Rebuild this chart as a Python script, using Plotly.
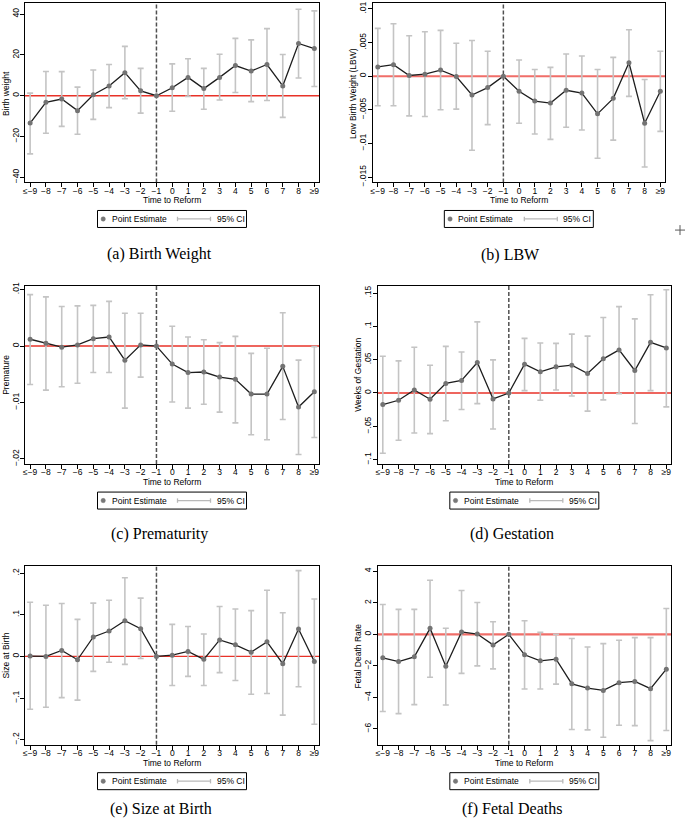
import plotly.graph_objects as go

W, H = 685, 829

categories = ["≤−9", "−8", "−7", "−6", "−5", "−4", "−3", "−2", "−1",
              "0", "1", "2", "3", "4", "5", "6", "7", "8", "≥9"]
reform_cat = "−1"

# (a) Birth weight
bw_est = [-13.4, -3.2, -1.6, -7.3, 0.5, 4.8, 11.3, 2.4, 0, 3.9, 9.0, 3.5, 9.0, 14.8, 12.1, 15.3, 4.8, 25.6, 23.1]
bw_lo = [-28.5, -18.4, -15.0, -18.9, -11.6, -5.8, -1.5, -8.5, None, -7.6, -0.3, -6.6, -2.1, 1.6, -2.9, -2.3, -10.6, 8.7, 4.5]
bw_hi = [1.3, 11.9, 11.8, 4.2, 12.6, 15.3, 24.2, 13.4, None, 15.6, 18.1, 13.4, 20.3, 28.1, 27.4, 32.9, 20.2, 42.4, 41.6]

# (b) LBW
lbw_est = [.00137, .0017, .0001, .0003, .0009, -.00005, -.0028, -.0017, 0, -.00225, -.0037, -.004, -.0021, -.0025, -.0056, -.0033, .002, -.007, -.00225]
lbw_lo = [-.0044, -.0044, -.0059, -.006, -.005, -.0049, -.011, -.0072, None, -.007, -.0086, -.0094, -.0076, -.008, -.0122, -.0095, -.003, -.0135, -.0082]
lbw_hi = [.0071, .0078, .006, .0066, .0068, .0049, .0053, .0037, None, .0024, .001, .0013, .0033, .003, .001, .0028, .0069, -.0005, .0037]

# (c) Prematurity
pre_est = [.0012, .0005, -.0002, .0002, .0013, .0016, -.0025, .0002, 0, -.0032, -.0047, -.0046, -.0055, -.0059, -.0085, -.0085, -.0036, -.0108, -.0081]
pre_lo = [-.0068, -.0078, -.0072, -.0066, -.0047, -.0047, -.011, -.0055, None, -.0099, -.011, -.0103, -.0117, -.0136, -.0157, -.0166, -.013, -.0192, -.0162]
pre_hi = [.0091, .0087, .007, .0071, .0072, .0079, .0058, .0058, None, .0035, .0016, .0011, .0006, .0017, -.0013, -.0004, .0059, -.0025, -.0001]

# (d) Gestation
ges_est = [-.0174, -.0109, .0045, -.0094, .0144, .0189, .0457, -.0089, 0, .0432, .0318, .0392, .0417, .0293, .0512, .0646, .0338, .076, .0676]
ges_lo = [-.0904, -.071, -.060, -.061, -.0417, -.0248, -.0159, -.0541, None, .0035, -.011, .0045, -.0045, -.0273, -.0104, -.001, -.0457, .0035, -.0209]
ges_hi = [.0551, .0482, .0686, .0417, .070, .0616, .1068, .0497, None, .082, .075, .0745, .0884, .0854, .1133, .1296, .1113, .1475, .155]

# (e) Size at birth
size_est = [.0008, 0, .0143, -.008, .0468, .061, .0857, .0667, 0, .003, .012, -.007, .0397, .0278, .0103, .035, -.0175, .066, -.012]
size_lo = [-.127, -.122, -.099, -.105, -.036, -.014, -.019, -.005, None, -.070, -.048, -.070, -.039, -.058, -.091, -.089, -.141, -.073, -.163]
size_hi = [.130, .123, .127, .089, .128, .135, .189, .140, None, .077, .072, .054, .12, .114, .110, .159, .105, .206, .138]

# (f) Fetal deaths
fd_est = [-1.49, -1.73, -1.43, .38, -2.02, .15, .02, -.67, 0, -1.3, -1.68, -1.58, -3.14, -3.41, -3.56, -3.07, -2.99, -3.45, -2.21]
fd_lo = [-4.9, -5.03, -4.46, -2.72, -4.48, -2.48, -2.0, -2.19, None, -3.47, -3.47, -3.16, -6.04, -6.06, -6.53, -5.77, -5.79, -6.74, -6.1]
fd_hi = [1.89, 1.58, 1.58, 3.43, .38, 2.78, 2.02, .8, None, .86, .13, 0, -.27, -.8, -.59, -.38, -.21, -.21, 1.64]

ytick_vals = {
    "a": [40, 20, 0, -20, -40],
    "b": [.01, .005, 0, -.005, -.01, -.015],
    "c": [.01, 0, -.01, -.02],
    "d": [.15, .1, .05, 0, -.05, -.1],
    "e": [.2, .1, 0, -.1, -.2],
    "f": [4, 2, 0, -2, -4, -6],
}
ytick_text = {
    "a": ["40", "20", "0", "−20", "−40"],
    "b": [".01", ".005", "0", "−.005", "−.01", "−.015"],
    "c": [".01", "0", "−.01", "−.02"],
    "d": [".15", ".1", ".05", "0", "−.05", "−.1"],
    "e": [".2", ".1", "0", "−.1", "−.2"],
    "f": ["4", "2", "0", "−2", "−4", "−6"],
}
ytitles = {"a": "Birth weight", "b": "Low Birth Weight (LBW)", "c": "Premature",
           "d": "Weeks of Gestation", "e": "Size at Birth", "f": "Fetal Death Rate"}
captions = {"a": "(a) Birth Weight", "b": "(b) LBW", "c": "(c) Prematurity",
            "d": "(d) Gestation", "e": "(e) Size at Birth", "f": "(f) Fetal Deaths"}

series = {
    "a": (bw_est, bw_lo, bw_hi),
    "b": (lbw_est, lbw_lo, lbw_hi),
    "c": (pre_est, pre_lo, pre_hi),
    "d": (ges_est, ges_lo, ges_hi),
    "e": (size_est, size_lo, size_hi),
    "f": (fd_est, fd_lo, fd_hi),
}

# layout geometry (pixels)
panels = {
    #      left,  right, top, bottom, yrange,            ytitle_x, caption_x, caption_y, redcolor, redwidth
    "a": (23, 318, 0.5, 181, [-42.5, 45.2], 4, 158, 253, "rgb(232,50,40)", 1.4),
    "b": (371.7, 665, 0.5, 181, [-.0158, .0108], 352, 510, 254, "rgb(240,110,105)", 2.0),
    "c": (23, 318, 285, 465, [-.0209, .0107], 4, 158, 536, "rgb(232,50,40)", 1.4),
    "d": (376.7, 671, 285, 465, [-.1067, .1612], 357, 511, 536, "rgb(232,50,40)", 1.4),
    "e": (23, 318, 568, 748, [-.212, .2167], 4, 159, 813, "rgb(232,50,40)", 1.4),
    "f": (376.7, 671, 568, 748, [-7.0, 4.32], 357, 511, 813, "rgb(240,110,105)", 2.2),
}

FONT = "Liberation Sans, Arial, sans-serif"
fig = go.Figure()
shapes = []
annotations = []
reform_idx = categories.index(reform_cat)

for i, key in enumerate(["a", "b", "c", "d", "e", "f"]):
    n = "" if i == 0 else str(i + 1)
    xa, ya = "x" + n, "y" + n
    left, right, top, bottom, yr, ytx, capx, capy, redc, redw = panels[key]
    est, lo, hi = series[key]
    plus = [None if h is None else h - e for e, h in zip(est, hi)]
    minus = [None if l is None else e - l for e, l in zip(est, lo)]

    fig.add_trace(go.Scatter(
        x=categories, y=est, xaxis=xa, yaxis=ya, mode="markers",
        marker=dict(size=1, color="rgba(0,0,0,0)"),
        error_y=dict(type="data", symmetric=False, array=plus, arrayminus=minus,
                     color="rgb(196,196,196)", thickness=1.6, width=3),
        showlegend=False, hoverinfo="skip"))

    # reference lines (behind the estimate line)
    shapes.append(dict(type="line", xref=xa + " domain", yref=ya, x0=0, x1=1, y0=0, y1=0,
                       line=dict(color=redc, width=redw), layer="below"))
    shapes.append(dict(type="line", xref=xa, yref=ya + " domain", x0=reform_idx, x1=reform_idx,
                       y0=0, y1=1, line=dict(color="rgb(80,80,80)", width=1.5, dash="4px,2px"),
                       layer="below"))

    fig.add_trace(go.Scatter(
        x=categories, y=est, xaxis=xa, yaxis=ya, mode="lines+markers",
        line=dict(color="rgb(30,30,30)", width=1.3),
        marker=dict(size=5, color="rgb(115,115,115)"),
        showlegend=False))

    xdom = [left / W, right / W]
    ydom = [1 - bottom / H, 1 - top / H]
    common = dict(showline=True, linecolor="black", linewidth=1, mirror=True,
                  showgrid=False, zeroline=False, ticks="outside", ticklen=4,
                  tickwidth=1, tickcolor="black",
                  tickfont=dict(family=FONT, size=8.5, color="black"))
    fig.layout["xaxis" + n] = dict(domain=xdom, anchor=ya, type="category",
                                   categoryorder="array", categoryarray=categories,
                                   range=[-0.33, 18.3], ticklabelstandoff=-4, **common)
    fig.layout["yaxis" + n] = dict(domain=ydom, anchor=xa, range=yr,
                                   tickvals=ytick_vals[key], ticktext=ytick_text[key],
                                   tickangle=-90, ticklabelstandoff=-2, **common)

    # axis titles
    annotations.append(dict(text="Time to Reform", xref=xa + " domain", yref=ya + " domain",
                            x=0.5, y=0, yshift=-18, showarrow=False, xanchor="center",
                            yanchor="middle", font=dict(family=FONT, size=8.5, color="black")))
    annotations.append(dict(text=ytitles[key], xref="paper", yref=ya + " domain",
                            x=ytx / W, y=0.5, textangle=-90, showarrow=False,
                            xanchor="center", yanchor="middle",
                            font=dict(family=FONT, size=8.5, color="black")))
    # caption
    annotations.append(dict(text=captions[key], xref="paper", yref="paper",
                            x=capx / W, y=1 - capy / H, showarrow=False,
                            xanchor="center", yanchor="middle",
                            font=dict(family="Liberation Serif, Times New Roman, serif",
                                      size=16, color="black")))

    # legend box
    pix = dict(xref=xa + " domain", yref=ya + " domain", xsizemode="pixel",
               ysizemode="pixel", xanchor=0.5, yanchor=0)
    shapes.append(dict(type="rect", x0=-74.5, x1=74.5, y0=-28, y1=-45,
                       line=dict(color="black", width=1), fillcolor="white", **pix))
    shapes.append(dict(type="circle", x0=-71, x1=-66.6, y0=-38.7, y1=-34.3,
                       line=dict(color="rgb(120,120,120)", width=0.5),
                       fillcolor="rgb(120,120,120)", **pix))
    shapes.append(dict(type="line", x0=5.5, x1=38.5, y0=-36.5, y1=-36.5,
                       line=dict(color="rgb(185,185,185)", width=1.3), **pix))
    for cx in (5.5, 38.5):
        shapes.append(dict(type="line", x0=cx, x1=cx, y0=-34.3, y1=-38.7,
                           line=dict(color="rgb(185,185,185)", width=1.3), **pix))
    annotations.append(dict(text="Point Estimate", xref=xa + " domain", yref=ya + " domain",
                            x=0.5, y=0, xshift=-62.5, yshift=-36.5, showarrow=False,
                            xanchor="left", yanchor="middle",
                            font=dict(family=FONT, size=8.5, color="black")))
    annotations.append(dict(text="95% CI", xref=xa + " domain", yref=ya + " domain",
                            x=0.5, y=0, xshift=42.5, yshift=-36.5, showarrow=False,
                            xanchor="left", yanchor="middle",
                            font=dict(family=FONT, size=8.5, color="black")))

# stray cross mark at the right edge
shapes.append(dict(type="line", xref="paper", yref="paper", x0=675 / W, x1=685 / W,
                   y0=1 - 229 / H, y1=1 - 229 / H, line=dict(color="rgb(90,90,90)", width=1)))
shapes.append(dict(type="line", xref="paper", yref="paper", x0=680 / W, x1=680 / W,
                   y0=1 - 224 / H, y1=1 - 234 / H, line=dict(color="rgb(90,90,90)", width=1)))

fig.update_layout(width=W, height=H, margin=dict(l=0, r=0, t=0, b=0),
                  paper_bgcolor="white", plot_bgcolor="white",
                  shapes=shapes, annotations=annotations, showlegend=False)

fig.write_html("out.html", config={"displayModeBar": False},
               post_script="document.body.style.margin='0';document.body.style.overflow='hidden';")
